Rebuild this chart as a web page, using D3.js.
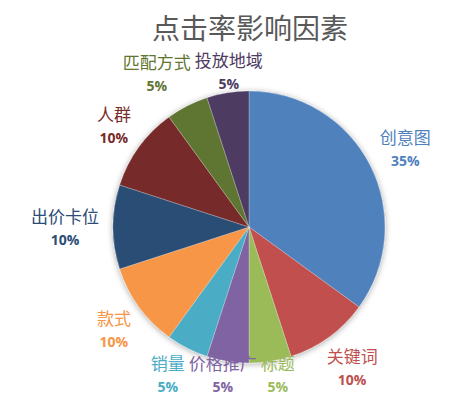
<!DOCTYPE html>
<html>
<head>
<meta charset="utf-8">
<script src="https://cdn.jsdelivr.net/npm/d3@7"></script>
<style>
  body { margin: 0; background: #fff; }
  svg { display: block; }
</style>
</head>
<body>
<div id="chart"></div>
<script>
// chart data
const categories = ['创意图', '关键词', '标题', '价格推广', '销量', '款式', '出价卡位', '人群', '匹配方式', '投放地域'];
const values = [35, 10, 5, 5, 5, 10, 10, 10, 5, 5];
const sliceColors = ['#4F81BD', '#C0504D', '#9BBB59', '#8064A2', '#4BACC6', '#F79646', '#2C4D75', '#772C2A', '#5F7530', '#4D3B62'];
const labelColors = ['#4F81BD', '#C0504D', '#9BBB59', '#8064A2', '#4BACC6', '#F79646', '#2C4D75', '#772C2A', '#5F7530', '#4D3B62'];
const title = '点击率影响因素';

const width = 473, height = 401;
const cx = 249, cy = 227, radius = 136;
const labelRadius = 150;
const maxLabelY = 374;
const minLabelY = 71;
const charSize = 17;

const svg = d3.select('#chart').append('svg')
  .attr('width', width)
  .attr('height', height);

// soft shadow around the pie
const defs = svg.append('defs');
const filter = defs.append('filter').attr('id', 'glow')
  .attr('x', '-20%').attr('y', '-20%').attr('width', '140%').attr('height', '140%');
filter.append('feGaussianBlur').attr('in', 'SourceAlpha').attr('stdDeviation', 3).attr('result', 'blur');
filter.append('feOffset').attr('in', 'blur').attr('dx', 0).attr('dy', 1).attr('result', 'off');
filter.append('feComponentTransfer').attr('in', 'off').attr('result', 'soft')
  .append('feFuncA').attr('type', 'linear').attr('slope', 0.35);
const merge = filter.append('feMerge');
merge.append('feMergeNode').attr('in', 'soft');
merge.append('feMergeNode').attr('in', 'SourceGraphic');

svg.append('text')
  .attr('x', 250)
  .attr('y', 39)
  .attr('text-anchor', 'middle')
  .style('font-family', '"Noto Sans CJK SC", sans-serif')
  .style('font-size', '28px')
  .style('fill', '#595959')
  .text(title);

const data = categories.map((c, i) => ({ name: c, value: values[i], color: sliceColors[i], labelColor: labelColors[i] }));

const pie = d3.pie().value(d => d.value).sort(null);
const arc = d3.arc().innerRadius(0).outerRadius(radius);
const arcs = pie(data);

const g = svg.append('g').attr('transform', `translate(${cx},${cy})`);

g.append('g').attr('filter', 'url(#glow)')
  .selectAll('path')
  .data(arcs)
  .enter()
  .append('path')
  .attr('d', arc)
  .attr('fill', d => d.data.color)
  .attr('stroke', 'rgba(255,255,255,0.4)')
  .attr('stroke-width', 0.6);

// label boxes: edge sits on labelRadius, centre pushed outward by half the box
const boxes = arcs.map(d => {
  const a = (d.startAngle + d.endAngle) / 2;
  const s = Math.sin(a), c = Math.cos(a);
  const w = d.data.name.length * charSize;
  let y = -labelRadius * c - c * 23;
  y = Math.max(Math.min(y, maxLabelY - cy), minLabelY - cy);
  return { d, w, x: labelRadius * s + s * w / 2, y };
});

// push overlapping label boxes apart sideways
const pad = 4;
for (let k = 0; k < 30; k++) {
  for (let i = 0; i < boxes.length; i++) {
    for (let j = i + 1; j < boxes.length; j++) {
      let a = boxes[i], b = boxes[j];
      if (Math.abs(a.y - b.y) >= 40) continue;
      if (a.x > b.x) [a, b] = [b, a];
      const gap = (b.x - b.w / 2) - (a.x + a.w / 2);
      if (gap < pad) {
        const push = (pad - gap) / 2;
        a.x -= push;
        b.x += push;
      }
    }
  }
}

const labels = g.selectAll('.label')
  .data(boxes)
  .enter()
  .append('g')
  .attr('class', 'label')
  .attr('transform', b => `translate(${b.x},${b.y})`);

labels.append('text')
  .attr('text-anchor', 'middle')
  .attr('y', -4)
  .style('font-family', '"Noto Sans CJK SC", sans-serif')
  .style('font-size', charSize + 'px')
  .style('fill', b => b.d.data.labelColor)
  .text(b => b.d.data.name);

labels.append('text')
  .attr('text-anchor', 'middle')
  .attr('y', 18)
  .style('font-family', '"Open Sans", "Noto Sans", sans-serif')
  .style('font-size', '14px')
  .style('font-weight', 'bold')
  .style('fill', b => b.d.data.labelColor)
  .text(b => b.d.data.value + '%');
</script>
</body>
</html>
